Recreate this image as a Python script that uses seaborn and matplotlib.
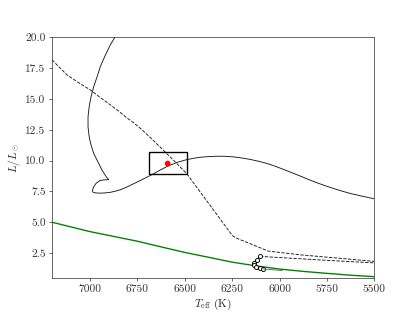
import matplotlib
matplotlib.use("Agg")
import matplotlib.pyplot as plt
import matplotlib.patches as mpatches
import seaborn as sns

# ---- data ----
track_teff = [6862, 6869, 6892, 6918, 6945, 6962, 6980, 6994, 7004, 7010, 7010,
              7004, 6994, 6980, 6962, 6936, 6913, 6901,
              6930, 6950, 6968, 6980, 6987, 6984, 6970, 6945, 6920, 6892,
              6866, 6839, 6805, 6769, 6733, 6698, 6660, 6628, 6590, 6540, 6490,
              6450, 6416, 6370, 6328, 6285, 6240, 6196, 6152, 6108, 6064, 6020,
              5976, 5932, 5888, 5844, 5799, 5755, 5711, 5667, 5623, 5560, 5500]
track_lum = [20.3, 20.0, 19.41, 18.59, 17.64, 16.82, 16.01, 15.2, 14.38, 13.56, 12.75,
             11.93, 11.26, 10.58, 10.03, 9.22, 8.67, 8.46,
             8.43, 8.36, 8.15, 7.88, 7.58, 7.44, 7.38, 7.36, 7.38, 7.43,
             7.52, 7.64, 7.86, 8.13, 8.40, 8.67, 8.97, 9.25, 9.55, 9.86, 10.08,
             10.20, 10.28, 10.33, 10.36, 10.35, 10.30, 10.21, 10.09, 9.94, 9.76, 9.53,
             9.27, 9.00, 8.73, 8.45, 8.18, 7.94, 7.72, 7.51, 7.32, 7.10, 6.90]

dash1_teff = [7200, 7121, 7060, 6998, 6945, 6892, 6850, 6813, 6770, 6733,
              6680, 6620, 6557, 6490, 6249, 6231,
              6152, 6060, 5888, 5700, 5500]
dash1_lum = [18.18, 16.96, 16.33, 15.74, 15.12, 14.52, 14.04, 13.56, 13.08, 12.61,
             11.85, 10.95, 10.0, 8.95, 3.92, 3.73,
             3.24, 2.66, 2.35, 2.10, 1.82]

dash2_teff = [6103, 5800, 5500]
dash2_lum = [2.23, 1.95, 1.70]

circ_teff = [6103, 6120, 6134, 6136, 6122, 6104, 6087]
circ_lum = [2.23, 1.96, 1.68, 1.52, 1.38, 1.29, 1.21]

tail_teff = [6087, 5985]
tail_lum = [1.21, 1.08]

zams_teff = [7200, 7100, 7000, 6875, 6750, 6625, 6500, 6363, 6250, 6125, 6000,
             5875, 5750, 5625, 5500]
zams_lum = [5.0, 4.62, 4.24, 3.85, 3.46, 3.0, 2.55, 2.12, 1.76, 1.46, 1.2,
            1.01, 0.85, 0.70, 0.58]

star_teff = [6590]
star_lum = [9.76]
box_teff = [6690, 6490]
box_lum = [8.9, 10.7]

xticks = [7000, 6750, 6500, 6250, 6000, 5750, 5500]
yticks = [2.5, 5.0, 7.5, 10.0, 12.5, 15.0, 17.5, 20.0]

# ---- style ----
sns.set_style("ticks")
plt.rcParams["font.family"] = ["cmr10", "DejaVu Serif"]
plt.rcParams["mathtext.fontset"] = "cm"
plt.rcParams["axes.formatter.use_mathtext"] = True
plt.rcParams["axes.edgecolor"] = "0.2"
plt.rcParams["xtick.color"] = "0.2"
plt.rcParams["ytick.color"] = "0.2"
plt.rcParams["text.color"] = "0.15"
plt.rcParams["axes.labelcolor"] = "0.15"
plt.rcParams["font.size"] = 12.5

fig, ax = plt.subplots(figsize=(6.4, 4.8), dpi=65)

sns.lineplot(x=track_teff, y=track_lum, sort=False, estimator=None,
             color="0.1", lw=1.0, ax=ax)
sns.lineplot(x=dash1_teff, y=dash1_lum, sort=False, estimator=None,
             color="0.1", lw=1.0, linestyle="--", ax=ax)
sns.lineplot(x=dash2_teff, y=dash2_lum, sort=False, estimator=None,
             color="0.1", lw=1.0, linestyle="--", ax=ax)
sns.lineplot(x=zams_teff, y=zams_lum, sort=False, estimator=None,
             color="green", lw=1.5, ax=ax)
sns.lineplot(x=circ_teff, y=circ_lum, sort=False, estimator=None,
             color="0.1", lw=1.0, marker="o", markersize=4.5,
             markerfacecolor="white", markeredgecolor="black",
             markeredgewidth=1.0, ax=ax)
sns.lineplot(x=tail_teff, y=tail_lum, sort=False, estimator=None,
             color="0.4", lw=1.0, ax=ax)

rect = mpatches.Rectangle((box_teff[1], box_lum[0]),
                          box_teff[0] - box_teff[1], box_lum[1] - box_lum[0],
                          fill=False, edgecolor="black", lw=1.5, zorder=4)
ax.add_patch(rect)
sns.scatterplot(x=star_teff, y=star_lum, color="red", s=40,
                edgecolor="none", zorder=5, ax=ax)

ax.set_xlim(7200, 5500)
ax.set_ylim(0.5, 20.0)
ax.set_xticks(xticks)
ax.set_yticks(yticks)
ax.set_xticklabels([str(v) for v in xticks])
ax.set_yticklabels([f"{v:.1f}" for v in yticks])
ax.set_xlabel(r"$T_{\rm eff}$ (K)")
ax.set_ylabel(r"$L/L_\odot$")

fig.savefig("out.png", dpi=65)
